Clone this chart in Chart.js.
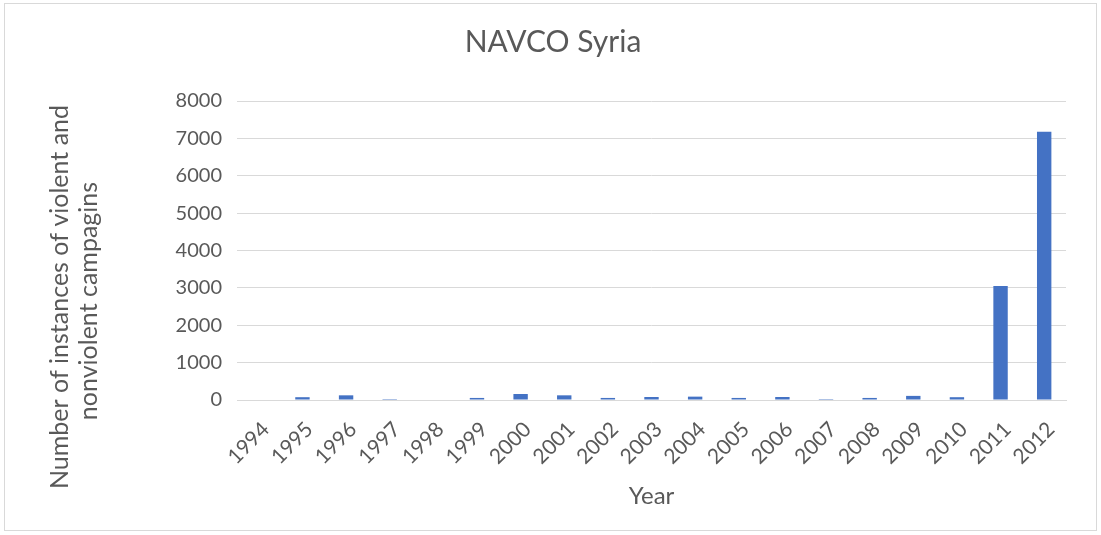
<!DOCTYPE html>
<html>
<head>
<meta charset="utf-8">
<script src="https://cdn.jsdelivr.net/npm/chart.js@4"></script>
<style>
  body { margin: 0; background: #fff; }
  #wrap { width: 1101px; height: 535px; }
</style>
</head>
<body>
<div id="wrap"><canvas id="chart" width="1101" height="535"></canvas></div>
<script>
// data
const years = ['1994','1995','1996','1997','1998','1999','2000','2001','2002','2003',
               '2004','2005','2006','2007','2008','2009','2010','2011','2012'];
const instances = [0, 75, 125, 25, 0, 55, 160, 125, 55, 80,
                   90, 55, 80, 25, 55, 110, 75, 3050, 7180];
const yTicks = [0, 1000, 2000, 3000, 4000, 5000, 6000, 7000, 8000];
const yTitle = ['Number of instances of violent and', 'nonviolent campagins'];

const textColor = '#595959';
const gridColor = '#d9d9d9';
const fontFamily = 'Lato, "Open Sans", sans-serif';

const frame = {
  id: 'frame',
  beforeDraw(chart) {
    const ctx = chart.ctx;
    ctx.save();
    ctx.fillStyle = '#fff';
    ctx.fillRect(0, 0, chart.width, chart.height);
    ctx.strokeStyle = gridColor;
    ctx.lineWidth = 1;
    ctx.strokeRect(4.5, 3.5, 1092, 527);
    ctx.restore();
  },
  // y axis title sits a bit lower than the plot centre, like the original
  afterDraw(chart) {
    const ctx = chart.ctx;
    ctx.save();
    ctx.translate(0, 297);
    ctx.rotate(-Math.PI / 2);
    ctx.fillStyle = textColor;
    ctx.font = '25px ' + fontFamily;
    ctx.textAlign = 'center';
    ctx.textBaseline = 'middle';
    ctx.fillText(yTitle[0], 0, 60);
    ctx.fillText(yTitle[1], -4, 89);
    ctx.restore();
  }
};

new Chart(document.getElementById('chart').getContext('2d'), {
  type: 'bar',
  data: {
    labels: years,
    datasets: [{
      label: 'instances',
      data: instances,
      backgroundColor: '#4472c4',
      borderWidth: 0,
      categoryPercentage: 1,
      barPercentage: 0.33
    }]
  },
  options: {
    responsive: false,
    animation: false,
    layout: { padding: { left: 40, right: 35, top: 0, bottom: 20 } },
    plugins: {
      legend: { display: false },
      tooltip: { enabled: false },
      title: {
        display: true,
        text: 'NAVCO Syria',
        color: textColor,
        font: { family: fontFamily, size: 30, weight: 'normal' },
        padding: { top: 24, bottom: 41 }
      }
    },
    scales: {
      x: {
        grid: { display: false },
        border: { color: gridColor, width: 1 },
        ticks: {
          color: textColor,
          font: { family: fontFamily, size: 21 },
          minRotation: 45,
          maxRotation: 45,
          autoSkip: false,
          padding: 9,
          labelOffset: 7
        },
        title: {
          display: true,
          text: 'Year',
          color: textColor,
          font: { family: fontFamily, size: 24 },
          padding: { top: 6 }
        },
        afterFit(scale) { scale.height = 115; }
      },
      y: {
        min: 0,
        max: 8000,
        afterBuildTicks(scale) { scale.ticks = yTicks.map(v => ({ value: v })); },
        grid: { color: gridColor, lineWidth: 1, drawTicks: false },
        border: { display: false },
        ticks: {
          color: textColor,
          font: { family: fontFamily, size: 20 },
          padding: 15,
          callback: v => String(v)
        },
        afterFit(scale) { scale.width = 197; }
      }
    }
  },
  plugins: [frame]
});
</script>
</body>
</html>
